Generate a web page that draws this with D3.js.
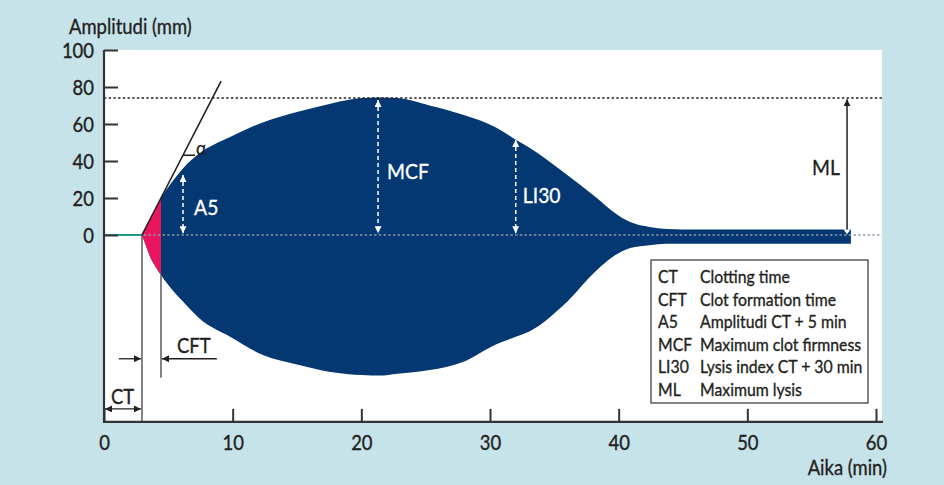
<!DOCTYPE html>
<html>
<head>
<meta charset="utf-8">
<script src="https://cdn.jsdelivr.net/npm/d3@7"></script>
<style>
  html, body { margin: 0; padding: 0; background: #c6e3ea; }
  svg { display: block; }
  text { font-family: Lato, "Noto Sans", sans-serif; fill: #231f20; }
</style>
</head>
<body>
<svg id="chart" width="944" height="485"></svg>
<script>
// Clot amplitude trace (minutes, upper and lower amplitude in mm)
const timeMin  = [2.95, 3.3, 3.6, 4.0, 4.43, 5.0, 6.14, 7.4, 9.8, 12.4, 15.0, 17.6, 20.1, 21.4, 22.8, 25.3, 27.9, 30.5, 32.0, 33.1, 35.7, 38.3, 39.6, 40.9, 42.4, 43.7, 45.0, 50.0, 58.05];
const upperAmp = [0, 4.7, 8.8, 14.2, 20, 26, 36, 44, 53, 61, 66.5, 71, 74, 74.3, 74, 70, 65, 58, 51.5, 47, 34, 20, 12.5, 7, 4.3, 3.2, 3, 3, 3];
const lowerAmp = [0, -6.5, -12, -17, -21.6, -27, -36, -45, -55, -65, -70, -74, -75.7, -76, -75, -73, -68.6, -59, -55, -52, -38, -19, -11.5, -7, -5.5, -4.7, -4.7, -4.7, -4.7];

const xTicks = [0, 10, 20, 30, 40, 50, 60];
const yTicks = [0, 20, 40, 60, 80, 100];

// Key times (min) and levels (mm)
const ctTime = 2.95;
const cftTime = 4.43;
const mcfLevel = 74.05;
const tangentPts = [[2.95, 0], [9.1, 83.2]];
const alphaPts = [[6.14, 43.1], [7.07, 43.1]];

// White dashed measurement arrows inside the trace
const innerArrowNames = ["A5", "MCF", "LI30"];
const innerArrowTime  = [6.14, 21.3, 32.0];
const innerArrowTop   = [32.5, 73, 51.4];
const innerLabelTime  = [7.0, 22.0, 32.55];
const innerLabelLevel = [10.8, 30.3, 17.3];

// Legend
const legendAbbr = ["CT", "CFT", "A5", "MCF", "LI30", "ML"];
const legendText = ["Clotting time", "Clot formation time", "Amplitudi CT + 5 min", "Maximum clot firmness", "Lysis index CT + 30 min", "Maximum lysis"];

const svg = d3.select("#chart");
const W = 944, H = 485;

// Horizontal condensation so the labels read as a narrow face
const probe = svg.append("text").attr("font-size", 18).text("Clotting time");
const K = 90 / probe.node().getComputedTextLength();
probe.remove();

function label(parent, px, py, str, size, anchor, color) {
  const c = color || "#231f20";
  return parent.append("text")
    .attr("transform", `translate(${px},${py}) scale(${K},1)`)
    .attr("font-size", size)
    .attr("text-anchor", anchor || "start")
    .style("fill", c)
    .style("stroke", c).style("stroke-width", 0.35)
    .text(str);
}

const x = d3.scaleLinear().domain([0, 60]).range([104, 876]);
const y = d3.scaleLinear().domain([0, 100]).range([235, 50]);
const xEnd = 882;            // right edge of plotting panel
const yBase = y(-101);       // x-axis position

svg.append("rect").attr("width", W).attr("height", H).attr("fill", "#c6e3ea");
svg.append("rect")
  .attr("x", x(0)).attr("y", y(100))
  .attr("width", xEnd - x(0)).attr("height", yBase - y(100))
  .attr("fill", "#ffffff");

// Arrowhead markers
const defs = svg.append("defs");
function marker(id, color) {
  defs.append("marker")
    .attr("id", id)
    .attr("viewBox", "0 0 10 10")
    .attr("refX", 10).attr("refY", 5)
    .attr("markerWidth", 7).attr("markerHeight", 7)
    .attr("markerUnits", "userSpaceOnUse")
    .attr("orient", "auto-start-reverse")
    .append("path").attr("d", "M0,0 L10,5 L0,10 Z").attr("fill", color);
}
marker("headBlack", "#231f20");
marker("headWhite", "#ffffff");

// Trace
const traceData = timeMin.map((t, i) => ({ t, hi: upperAmp[i], lo: lowerAmp[i] }));
const area = d3.area()
  .x(d => x(d.t))
  .y0(d => y(d.lo))
  .y1(d => y(d.hi))
  .curve(d3.curveMonotoneX);

svg.append("path").datum(traceData).attr("d", area).attr("fill", "#033873");

defs.append("clipPath").attr("id", "cftClip")
  .append("rect")
  .attr("x", x(ctTime) - 1).attr("y", 0)
  .attr("width", x(cftTime) - x(ctTime) + 1).attr("height", H);
svg.append("path").datum(traceData).attr("d", area)
  .attr("fill", "#e9165f").attr("clip-path", "url(#cftClip)");

// Reference lines
svg.append("line")
  .attr("x1", x(0)).attr("x2", xEnd)
  .attr("y1", y(mcfLevel)).attr("y2", y(mcfLevel))
  .attr("stroke", "#231f20").attr("stroke-width", 1.4).attr("stroke-dasharray", "2.4,2.3");
svg.append("line")
  .attr("x1", x(2)).attr("x2", xEnd)
  .attr("y1", y(0)).attr("y2", y(0))
  .attr("stroke", "#8c9aa8").attr("stroke-width", 1.6).attr("stroke-dasharray", "2.4,2.3");
svg.append("line")
  .attr("x1", x(0)).attr("x2", x(ctTime))
  .attr("y1", y(0)).attr("y2", y(0))
  .attr("stroke", "#1f9a86").attr("stroke-width", 1.8);

// Tangent line and angle
const line = d3.line().x(d => x(d[0])).y(d => y(d[1]));
svg.append("path").attr("d", line(tangentPts)).attr("stroke", "#231f20").attr("stroke-width", 1.6).attr("fill", "none");
svg.append("path").attr("d", line(alphaPts)).attr("stroke", "#231f20").attr("stroke-width", 1.6).attr("fill", "none");
label(svg, x(7.07) + 1, y(43.1), "α", 20);

// CT / CFT verticals
svg.append("line")
  .attr("x1", x(ctTime)).attr("x2", x(ctTime))
  .attr("y1", y(0)).attr("y2", yBase)
  .attr("stroke", "#5a5a5a").attr("stroke-width", 1.5);
svg.append("line")
  .attr("x1", x(cftTime)).attr("x2", x(cftTime))
  .attr("y1", y(-21.6)).attr("y2", y(-77.1))
  .attr("stroke", "#5a5a5a").attr("stroke-width", 1.5);

// CT arrow (double headed)
svg.append("line")
  .attr("x1", x(0) + 1).attr("x2", x(ctTime) - 1)
  .attr("y1", y(-94)).attr("y2", y(-94))
  .attr("stroke", "#231f20").attr("stroke-width", 1.3)
  .attr("marker-start", "url(#headBlack)").attr("marker-end", "url(#headBlack)");
label(svg, x(1.44), y(-91.4), "CT", 21, "middle");

// CFT arrows pointing inward
svg.append("line")
  .attr("x1", x(1.15)).attr("x2", x(ctTime) - 1)
  .attr("y1", y(-66.9)).attr("y2", y(-66.9))
  .attr("stroke", "#231f20").attr("stroke-width", 1.3)
  .attr("marker-end", "url(#headBlack)");
svg.append("line")
  .attr("x1", x(8.77)).attr("x2", x(cftTime) + 1)
  .attr("y1", y(-66.9)).attr("y2", y(-66.9))
  .attr("stroke", "#231f20").attr("stroke-width", 1.3)
  .attr("marker-end", "url(#headBlack)");
label(svg, x(5.67), y(-63.8), "CFT", 21);

// Inner white dashed arrows
innerArrowNames.forEach((name, i) => {
  svg.append("line")
    .attr("x1", x(innerArrowTime[i])).attr("x2", x(innerArrowTime[i]))
    .attr("y1", y(innerArrowTop[i])).attr("y2", y(1))
    .attr("stroke", "#ffffff").attr("stroke-width", 1.5).attr("stroke-dasharray", "4,3")
    .attr("marker-start", "url(#headWhite)").attr("marker-end", "url(#headWhite)");
  label(svg, x(innerLabelTime[i]), y(innerLabelLevel[i]), name, 22, "start", "#ffffff");
});

// ML arrow
svg.append("line")
  .attr("x1", x(57.75)).attr("x2", x(57.75))
  .attr("y1", y(73.4)).attr("y2", y(1.6))
  .attr("stroke", "#231f20").attr("stroke-width", 1.5)
  .attr("marker-start", "url(#headBlack)");
svg.append("path")
  .attr("d", `M${x(57.75) - 3.5},${y(3)} L${x(57.75) + 3.5},${y(3)} L${x(57.75)},${y(0.4)} Z`)
  .attr("fill", "#ffffff");
label(svg, x(57.2), y(32.4), "ML", 22, "end");

// Axes
const axisColor = "#333333";
const yAxis = d3.axisLeft(y).tickValues(yTicks).tickSizeInner(-14).tickSizeOuter(0);
const gy = svg.append("g").attr("transform", `translate(${x(0)},0)`).call(yAxis);
gy.select(".domain").remove();
gy.selectAll(".tick line").attr("stroke", axisColor).attr("stroke-width", 2);
gy.selectAll(".tick text")
  .attr("x", null).attr("dy", "0.36em")
  .attr("transform", `translate(-10,0) scale(${K},1)`)
  .attr("font-size", 21).attr("font-family", null)
  .style("fill", "#231f20").style("stroke", "#231f20").style("stroke-width", 0.35);

const xAxis = d3.axisBottom(x).tickValues(xTicks).tickSizeInner(-13).tickSizeOuter(0).tickPadding(13);
const gx = svg.append("g").attr("transform", `translate(0,${yBase})`).call(xAxis);
gx.select(".domain").remove();
gx.selectAll(".tick line").attr("stroke", axisColor).attr("stroke-width", 2);
gx.selectAll(".tick text")
  .attr("transform", `scale(${K},1)`)
  .attr("font-size", 21).attr("font-family", null)
  .style("fill", "#231f20").style("stroke", "#231f20").style("stroke-width", 0.35);

svg.append("line").attr("x1", x(0)).attr("x2", x(0)).attr("y1", y(100)).attr("y2", yBase + 1)
  .attr("stroke", axisColor).attr("stroke-width", 2.2);
svg.append("line").attr("x1", x(0) - 1).attr("x2", xEnd + 1).attr("y1", yBase).attr("y2", yBase)
  .attr("stroke", axisColor).attr("stroke-width", 2.2);

label(svg, 69, 34, "Amplitudi (mm)", 21);
label(svg, 887, 475, "Aika (min)", 21, "end");

// Legend
const lg = svg.append("g");
lg.append("rect").attr("x", 651).attr("y", 260).attr("width", 217).attr("height", 143)
  .attr("fill", "#ffffff").attr("stroke", "#333333").attr("stroke-width", 1.2);
legendAbbr.forEach((a, i) => {
  const by = 283.3 + i * 22.5;
  label(lg, 658, by, a, 18);
  label(lg, 700, by, legendText[i], 18);
});
</script>
</body>
</html>
